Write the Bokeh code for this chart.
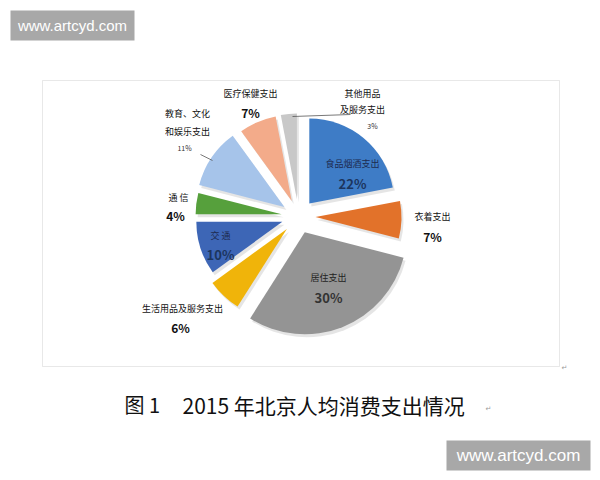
import math
from bokeh.plotting import figure
from bokeh.models import Range1d, BoxAnnotation, ColumnDataSource
from bokeh.core.properties import value
from bokeh.embed import file_html
from bokeh.resources import INLINE

# ---------------- data ----------------
categories = ["食品烟酒支出", "衣着支出", "居住支出", "生活用品及服务支出", "交通",
              "通信", "教育、文化和娱乐支出", "医疗保健支出", "其他用品及服务支出"]
shares = [22, 7, 30, 6, 10, 4, 11, 7, 3]
label_lines = [["食品烟酒支出"], ["衣着支出"], ["居住支出"], ["生活用品及服务支出"], ["交 通"],
               ["通 信"], ["教育、文化", "和娱乐支出"], ["医疗保健支出"], ["其他用品", "及服务支出"]]
caption_a = "图 1"
caption_b = "2015 年北京人均消费支出情况"
watermark = "www.artcyd.com"

# ---------------- styles / layout ----------------
colors = ["#3e7cc6", "#e2722a", "#949494", "#f0b40a", "#3d66b6",
          "#56a03c", "#a6c4ea", "#f3ab8a", "#c8c8c8"]
radii = [85, 86, 102, 92, 86, 86, 88, 86, 86]
name_pos = [(352, 163), (432, 216), (328, 277), (182, 308), (220, 235),
            (178, 197), (187, 113), (250, 93), (362, 93)]
pct_pos = [(352, 183), (432, 236), (328, 297), (180, 327), (220, 254),
           (175, 215), (184, 147), (250, 112), (372, 125)]
name_color = ["#1d2b50", "#111111", "#222222", "#111111", "#1d2b50",
              "#111111", "#111111", "#111111", "#111111"]
pct_color = ["#1c355e", "#111111", "#333333", "#111111", "#1c355e",
             "#111111", "#333333", "#111111", "#333333"]
pct_size = ["13px", "12px", "13px", "12px", "13px", "12px", "7px", "12px", "7px"]
pct_style = ["bold", "bold", "bold", "bold", "bold", "bold", "normal", "bold", "normal"]
line_step = [17, 17, 17, 17, 17, 17, 18, 17, 16]

FONT = "Noto Sans CJK SC"
PAGE_W, PAGE_H = 600, 480
CX, CY_PAGE = 298, 216
EXPLODE = 17


def Y(py):
    return PAGE_H - py


p = figure(width=PAGE_W, height=PAGE_H, x_range=Range1d(0, PAGE_W), y_range=Range1d(0, PAGE_H),
           output_backend="svg", toolbar_location=None, min_border=0,
           x_axis_type=None, y_axis_type=None, outline_line_color=None,
           background_fill_color="white", border_fill_color="white")
p.grid.visible = False

# chart frame
p.add_layout(BoxAnnotation(left=42, right=559, top=Y(80), bottom=Y(366),
                           fill_alpha=0, line_color="#b4b4b4", line_width=1, level="underlay"))
# watermark boxes
p.add_layout(BoxAnnotation(left=10, right=134, top=Y(10), bottom=Y(40),
                           fill_color="#a8a8a8", fill_alpha=1, line_color=None, level="underlay"))
p.add_layout(BoxAnnotation(left=446, right=590, top=Y(440), bottom=Y(470),
                           fill_color="#a8a8a8", fill_alpha=1, line_color=None, level="underlay"))

# pie geometry from shares
total = float(sum(shares))
cx, cy, st, en = [], [], [], []
cum = 0.0
for s in shares:
    a0 = 90 - 360 * (cum + s) / total
    a1 = 90 - 360 * cum / total
    mid = math.radians((a0 + a1) / 2)
    cx.append(CX + EXPLODE * math.cos(mid))
    cy.append(Y(CY_PAGE) + EXPLODE * math.sin(mid))
    st.append(math.radians(a0))
    en.append(math.radians(a1))
    cum += s

shadow = ColumnDataSource(dict(x=[v + 2 for v in cx], y=[v - 3 for v in cy], r=radii,
                               start=st, end=en))
p.wedge(x="x", y="y", radius="r", radius_units="screen", start_angle="start", end_angle="end",
        fill_color="#000000", fill_alpha=0.10, line_color=None, source=shadow)

src = ColumnDataSource(dict(x=cx, y=cy, r=radii, start=st, end=en, color=colors, cat=categories))
p.wedge(x="x", y="y", radius="r", radius_units="screen", start_angle="start", end_angle="end",
        fill_color="color", line_color=None, source=src)

# leader lines
p.line(x=[292, 350], y=[Y(116), Y(114)], line_color="#555555", line_width=0.8)
p.line(x=[200, 212], y=[Y(154), Y(160)], line_color="#555555", line_width=0.8)

# labels
for i, s in enumerate(shares):
    nx, ny = name_pos[i]
    for j, ln in enumerate(label_lines[i]):
        p.text(x=[nx], y=[Y(ny + j * line_step[i])], text=[ln], text_font=value(FONT),
               text_font_size="9px", text_align="center", text_baseline="middle",
               text_color=name_color[i])
    px, py = pct_pos[i]
    p.text(x=[px], y=[Y(py)], text=[f"{s}%"], text_font=value(FONT),
           text_font_size=pct_size[i], text_font_style=pct_style[i],
           text_align="center", text_baseline="middle", text_color=pct_color[i])

# caption
p.text(x=[124], y=[Y(404)], text=[caption_a], text_font=value(FONT), text_font_size="20px",
       text_align="left", text_baseline="middle", text_color="#111111")
p.text(x=[182], y=[Y(404)], text=[caption_b], text_font=value(FONT), text_font_size="21px",
       text_align="left", text_baseline="middle", text_color="#111111")
p.text(x=[488], y=[Y(408)], text=["↵"], text_font=value("DejaVu Sans"), text_font_size="7px",
       text_align="center", text_baseline="middle", text_color="#999999")
p.text(x=[564], y=[Y(367)], text=["↵"], text_font=value("DejaVu Sans"), text_font_size="7px",
       text_align="center", text_baseline="middle", text_color="#999999")

# watermarks
p.text(x=[72], y=[Y(25)], text=[watermark], text_font=value("Liberation Sans"),
       text_font_size="15px", text_align="center", text_baseline="middle", text_color="white")
p.text(x=[518], y=[Y(455)], text=[watermark], text_font=value("Liberation Sans"),
       text_font_size="17px", text_align="center", text_baseline="middle", text_color="white")

open("out.html", "w").write(file_html(p, INLINE))
